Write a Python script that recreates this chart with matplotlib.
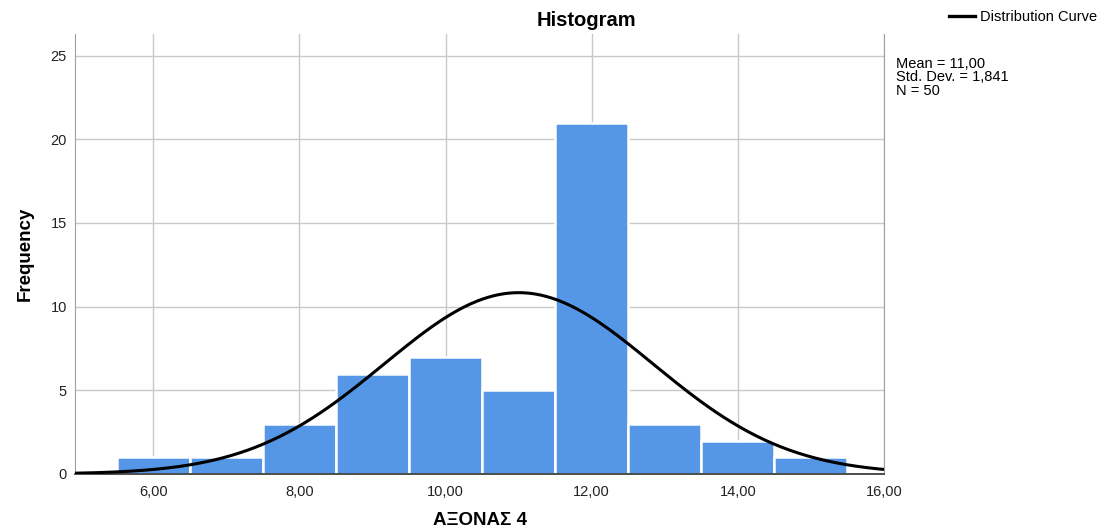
import numpy as np
import matplotlib
matplotlib.use("Agg")
import matplotlib.pyplot as plt
from matplotlib.lines import Line2D

plt.rcParams['font.family'] = ['Liberation Sans', 'DejaVu Sans']

bin_centers = [6, 7, 8, 9, 10, 11, 12, 13, 14, 15]
frequencies = [1, 1, 3, 6, 7, 5, 21, 3, 2, 1]
mean_val = 11.00
std_val = 1.841
n_val = 50
x_ticks = [6, 8, 10, 12, 14, 16]
x_tick_labels = ["6,00", "8,00", "10,00", "12,00", "14,00", "16,00"]
y_ticks = [0, 5, 10, 15, 20, 25]

fig = plt.figure(figsize=(11.05, 5.29), dpi=100)
ax = fig.add_axes([0.068, 0.104, 0.732, 0.832])

ax.set_axisbelow(True)
ax.grid(True, color='#c8c8c8', linewidth=1)
ax.bar(bin_centers, frequencies, width=1.0, color='#5596e6', edgecolor='white', linewidth=1.8, zorder=2)

xs = np.linspace(4.93, 16, 400)
ys = n_val * 1.0 / (std_val * np.sqrt(2 * np.pi)) * np.exp(-0.5 * ((xs - mean_val) / std_val) ** 2)
ax.plot(xs, ys, color='black', linewidth=2.2, zorder=3)

ax.set_xlim(4.93, 16)
ax.set_ylim(0, 26.3)
ax.set_xticks(x_ticks)
ax.set_xticklabels(x_tick_labels, fontsize=10.5)
ax.set_yticks(y_ticks)
ax.set_yticklabels([str(v) for v in y_ticks], fontsize=10.5)
ax.tick_params(axis='x', length=0, pad=8, colors='#222222')
ax.tick_params(axis='y', length=0, pad=6, colors='#222222')

ax.spines['top'].set_visible(False)
ax.spines['left'].set_color('#a0a0a0')
ax.spines['right'].set_color('#a0a0a0')
ax.spines['bottom'].set_color('#303030')
ax.spines['bottom'].set_linewidth(1.2)

fig.text(0.531, 0.962, "Histogram", fontsize=14.5, fontweight='bold', ha='center', va='center')
ax.set_ylabel("Frequency", fontsize=13.5, fontweight='bold', labelpad=12)
ax.set_xlabel("ΑΞΟΝΑΣ 4", fontsize=13.5, fontweight='bold', labelpad=9)

fig.text(0.811, 0.893, "Mean = 11,00\nStd. Dev. = 1,841\nN = 50", fontsize=10.5,
         va='top', ha='left', linespacing=0.95)

handle = Line2D([0], [0], color='black', linewidth=2.4)
fig.legend([handle], ["Distribution Curve"], loc='upper right', bbox_to_anchor=(1.005, 1.005),
           frameon=False, fontsize=10.5, handlelength=1.8, handletextpad=0.35)

fig.savefig("out.png", dpi=100)
